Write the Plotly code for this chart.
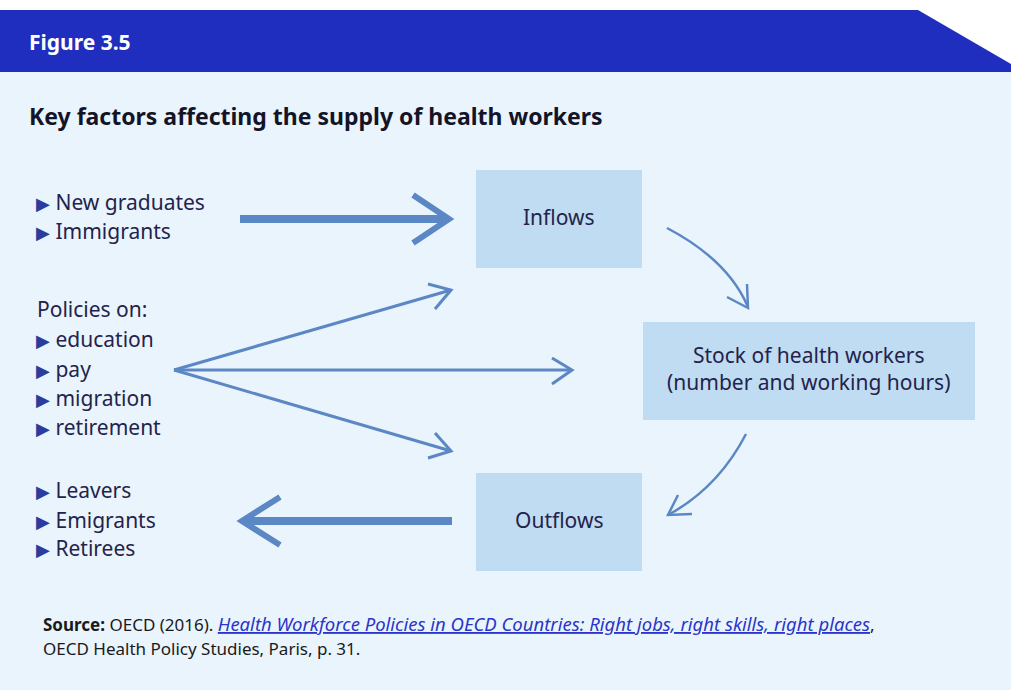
import plotly.graph_objects as go

# ---- content ----
header_label = "Figure 3.5"
title_text = "Key factors affecting the supply of health workers"
inflow_sources = ["New graduates", "Immigrants"]
policy_heading = "Policies on:"
policy_items = ["education", "pay", "migration", "retirement"]
outflow_targets = ["Leavers", "Emigrants", "Retirees"]
box_labels = ["Inflows", "Stock of health workers<br>(number and working hours)", "Outflows"]
source_ref = "OECD (2016). "
source_title = "Health Workforce Policies in OECD Countries: Right jobs, right skills, right places"
source_tail = "OECD Health Policy Studies, Paris, p. 31."

W, H = 1011, 690
HEADER = "#1f2ebe"
BG = "#eaf4fd"
BOX = "#c0dcf2"
ARROW = "#5b87c5"
TXT = "#23234b"
BULLET = "#2c3c9c"
FONT = "Noto Sans"

fig = go.Figure()
fig.add_trace(go.Scatter(x=[0, W], y=[0, H], mode="markers", marker=dict(opacity=0), hoverinfo="skip", showlegend=False))

shapes = []
# background panel
shapes.append(dict(type="rect", x0=0, x1=W, y0=72, y1=H, fillcolor=BG, line=dict(width=0), layer="below"))
# header band with cut corner
shapes.append(dict(type="path", path=f"M 0 10 L 918 10 L {W} 64 L {W} 72 L 0 72 Z", fillcolor=HEADER, line=dict(width=0), layer="below"))

# boxes
boxes = [(476, 642, 170, 268), (643, 975, 322, 420), (476, 642, 473, 571)]
for x0, x1, y0, y1 in boxes:
    shapes.append(dict(type="rect", x0=x0, x1=x1, y0=y0, y1=y1, fillcolor=BOX, line=dict(width=0), layer="below"))

def seg(path, w):
    return dict(type="path", path=path, line=dict(color=ARROW, width=w), fillcolor="rgba(0,0,0,0)")

# thick inflow arrow
shapes.append(seg("M 240 219 L 448 219", 8))
shapes.append(seg("M 413 195 L 449 219 L 413 243", 6))
# thick outflow arrow
shapes.append(seg("M 452 521 L 243 521", 8))
shapes.append(seg("M 280 497 L 242 521 L 280 545", 6))
# fan arrows
shapes.append(seg("M 174 370 L 451 290", 3))
shapes.append(seg("M 428 284 L 451 290 L 435 309", 3))
shapes.append(seg("M 174 370 L 571 370", 3))
shapes.append(seg("M 552 358 L 572 370 L 552 384", 3))
shapes.append(seg("M 174 370 L 451 451", 3))
shapes.append(seg("M 435 433 L 451 451 L 428 458", 3))
# curved arrows
shapes.append(seg("M 667 228 Q 728 260 748 307", 2.5))
shapes.append(seg("M 747 284 L 748 308 L 727 297", 2.5))
shapes.append(seg("M 746 434 Q 718 488 668 515", 2.5))
shapes.append(seg("M 678 495 L 668 515 L 692 514", 2.5))

ann = []
def text(x, y, t, size=21, color=TXT, xanchor="left", align="left", bold=False, family=FONT):
    ann.append(dict(x=x, y=y, xref="x", yref="y", text=t, showarrow=False, xanchor=xanchor, yanchor="middle",
                    align=align, font=dict(family=family, size=size, color=color, weight=700 if bold else 400)))

text(27, 42, header_label, size=21, color="white", bold=True)
text(27, 116, title_text, size=23, color="#141428", bold=True)

def bullet(label):
    return f"<span style='color:{BULLET};font-size:18px'>▶</span> {label}"

ys_in = [202, 231]
for y, lab in zip(ys_in, inflow_sources):
    text(34, y, bullet(lab))
text(35, 309, policy_heading)
ys_pol = [339, 369, 398, 427]
for y, lab in zip(ys_pol, policy_items):
    text(34, y, bullet(lab))
ys_out = [490, 520, 548]
for y, lab in zip(ys_out, outflow_targets):
    text(34, y, bullet(lab))

centers = [(559, 217), (808, 368), (559, 520)]
for (cx, cy), lab in zip(centers, box_labels):
    text(cx, cy, lab, size=21, xanchor="center", align="center")

text(41, 623, f"<b>Source:</b> {source_ref}<a href='https://doi.org/10.1787/9789264239517-en' style='color:#2a35c9;font-size:18.5px'><i><u>{source_title}</u></i></a>,",
     size=17, color="#1a1a1a")
text(41, 648, source_tail, size=17, color="#1a1a1a")

fig.update_layout(
    width=W, height=H, margin=dict(l=0, r=0, t=0, b=0),
    paper_bgcolor="white", plot_bgcolor="white",
    xaxis=dict(range=[0, W], visible=False, fixedrange=True),
    yaxis=dict(range=[H, 0], visible=False, fixedrange=True),
    shapes=shapes, annotations=ann, showlegend=False,
)
fig.write_html("out.html", config={"displayModeBar": False},
               post_script="document.body.style.margin='0';document.body.style.overflow='hidden';")
